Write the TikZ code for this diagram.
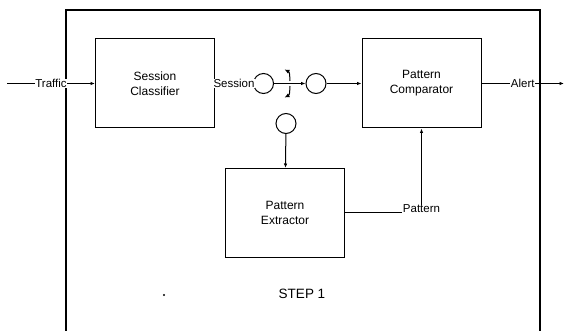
\documentclass[tikz,border=0pt]{standalone}
\usepackage{fontspec}
\setmainfont{Liberation Sans}
\usetikzlibrary{arrows.meta,positioning}

\begin{document}
\begin{tikzpicture}[x=1pt,y=-1pt,line width=1pt,>={Latex[length=4.5pt,width=3.5pt]},
  block/.style={draw,align=center,minimum width=119pt,minimum height=89pt,font=\fontsize{12}{15}\selectfont},
  port/.style={draw,circle,minimum size=20pt,inner sep=0pt},
  lbl/.style={fill=white,inner sep=0.5pt,font=\fontsize{11.5}{13}\selectfont}]
\useasboundingbox (0,0) rectangle (565,331);
% outer frame, open at the bottom
\draw[line width=1.2pt] (66,331) -- (66,10) -- (540,10) -- (540,331);
\node[block] (sc) at (155,83.5) {Session\\Classifier};
\node[block] (pc) at (421.5,83.5) {Pattern\\Comparator};
\node[block] (pe) at (285,213) {Pattern\\Extractor};
\node[port] (c1) at (263.5,83.5) {};
\node[port] (c2) at (316,83.5) {};
\node[port] (c3) at (286,123.5) {};
\coordinate (in) at (7,83.5);
\coordinate (out) at (564,83.5);
\draw[->] (in)--node[lbl]{Traffic}(sc);
\draw (sc)--node[lbl]{Session}(c1);
\draw[->] (c1)--(c2);
\draw[->] (c2)--(pc);
\draw[->] (pc)--node[lbl]{Alert}(out);
\draw[->] (c3)--(pe);
\draw[->] (pe.east) -| node[pos=0.5,lbl,anchor=base]{Pattern} (pc.south);
% switch
\draw[{Latex[length=5pt,width=4.5pt]}-] (284.5,69.5) .. controls (289.5,72) .. (290,81);
\draw[-{Latex[length=5pt,width=4.5pt]}] (290,86) .. controls (289.5,95) .. (284.5,97.5);
\fill (164,295) circle (1.2pt);
\node[font=\fontsize{13.5}{16}\selectfont] (step) at (302,294) {STEP 1};
\end{tikzpicture}
\end{document}
